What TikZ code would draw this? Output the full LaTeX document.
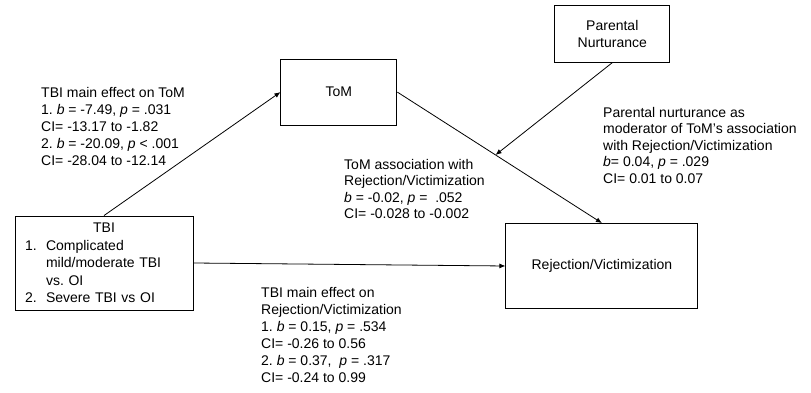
\documentclass[tikz,border=0pt]{standalone}
\usepackage{fontspec}
\setmainfont{Liberation Sans}
\usepackage{tikz}
\usetikzlibrary{arrows.meta,positioning,calc}
\frenchspacing
\tikzset{
    causal/.style={-{Latex[length=6pt, width=5pt]}, line width=0.8pt},
    var/.style={draw, line width=0.9pt, inner sep=0pt, align=center},
    note/.style={anchor=north west, inner sep=0pt, align=left}
}

\begin{document}
\begin{tikzpicture}[x=1pt, y=1pt, font=\fontsize{14}{17}\selectfont]
            \useasboundingbox (0,0) rectangle (811,393);
            \node[var, minimum width=178pt, minimum height=94pt, text width=158pt, align=left, font=\fontsize{14}{17.6}\selectfont] (tbi) at (104,130)
                {\makebox[158pt]{TBI}\\
                 \makebox[21pt][l]{1.}Complicated\\
                 \hspace*{21pt}mild/moderate TBI\\
                 \hspace*{21pt}vs. OI\\
                 \makebox[21pt][l]{2.}Severe TBI vs OI};
            \node[var, minimum width=116pt, minimum height=66pt, above right=90pt and 87pt of tbi] (tom) {ToM};
            \node[var, minimum width=115pt, minimum height=57pt, above right=-4pt and 157pt of tom] (par) {Parental\\Nurturance};
            \node[var, minimum width=192pt, minimum height=85pt, right=312pt of tbi, yshift=-3pt] (rej) {Rejection/Victimization};
            \draw[causal] (tbi.north) -- (tom.west);
            \draw[causal] (tom.east) -- (rej.north);
            \coordinate (mod) at ($(tom.east)!0.48!(rej.north)$);
            \draw[causal] (par.south) -- (mod);
            \draw[causal] (tbi.east) -- (rej.west);
            % path estimates
            \node[note] (tbitom) at (41,306) {TBI main effect on ToM\\
                1. \textit{b} = -7.49, \textit{p} = .031\\
                CI= -13.17 to -1.82\\
                2. \textit{b} = -20.09, \textit{p} < .001\\
                CI= -28.04 to -12.14};
            \node[note, font=\fontsize{14}{16.5}\selectfont] (tomrej) at (344,234) {ToM association with\\
                Rejection/Victimization\\
                \textit{b} = -0.02, \textit{p} = \ .052\\
                CI= -0.028 to -0.002};
            \node[note, font=\fontsize{14}{16.5}\selectfont] (parmod) at (603,286) {Parental nurturance as\\
                moderator of ToM’s association\\
                with Rejection/Victimization\\
                \textit{b}= 0.04, \textit{p} = .029\\
                CI= 0.01 to 0.07};
            \node[note] (tbirej) at (261,106) {TBI main effect on\\
                Rejection/Victimization\\
                1. \textit{b} = 0.15, \textit{p} = .534\\
                CI= -0.26 to 0.56\\
                2. \textit{b} = 0.37, \ \textit{p} = .317\\
                CI= -0.24 to 0.99};
        \end{tikzpicture}
\end{document}
